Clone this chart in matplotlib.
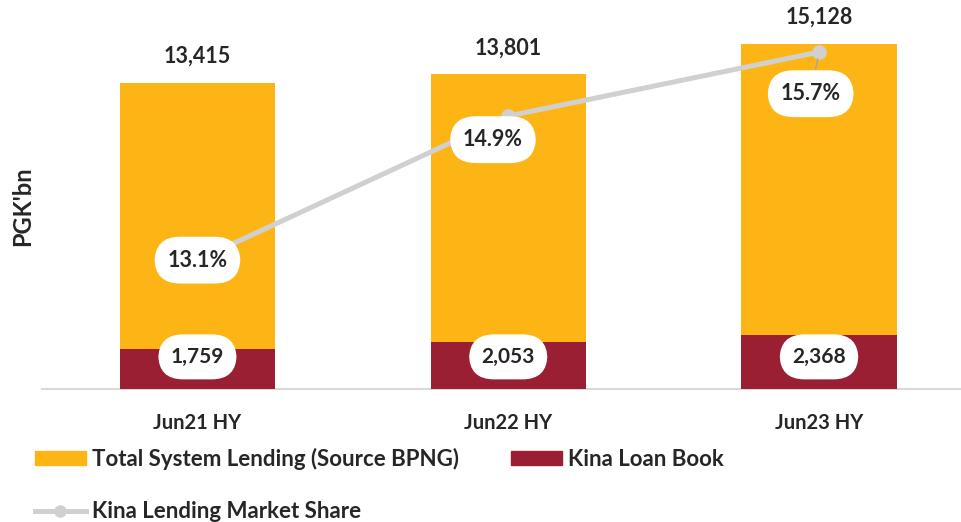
import matplotlib
matplotlib.use("Agg")
import matplotlib.pyplot as plt
import matplotlib.transforms as mtransforms
from matplotlib.patches import Patch
from matplotlib.lines import Line2D

plt.rcParams['font.family'] = ['Lato', 'DejaVu Sans']
plt.rcParams['font.weight'] = 'bold'

periods = ['Jun21 HY', 'Jun22 HY', 'Jun23 HY']
system_lending = [13415, 13801, 15128]
kina_loans = [1759, 2053, 2368]
market_share = [13.1, 14.9, 15.7]

ORANGE = '#FDB515'
MAROON = '#9A1F33'
GREY = '#D0D0D0'
TXT = '#262626'

fig = plt.figure(figsize=(9.62, 5.22), dpi=100)
ax = fig.add_axes([0.0437, 0.2548, 0.9563, 0.6992])
x = list(range(len(periods)))

ax.bar(x, system_lending, width=0.5, color=ORANGE, zorder=2)
ax.bar(x, kina_loans, width=0.5, color=MAROON, zorder=3)
ax.set_xlim(-0.5, 2.46)
ax.set_ylim(0, 16000)

for s in ['top', 'right', 'left']:
    ax.spines[s].set_visible(False)
ax.spines['bottom'].set_color('#D9D9D9')
ax.spines['bottom'].set_linewidth(1.5)
ax.set_yticks([])
ax.set_xticks(x)
ax.set_xticklabels(periods, fontsize=14.5, color=TXT, fontweight='bold')
ax.tick_params(axis='x', length=0, pad=17)
ax.set_ylabel("PGK'bn", fontsize=17, color=TXT, fontweight='bold', labelpad=6)

box = dict(boxstyle='round,pad=0.6,rounding_size=1.2', fc='white', ec='none')

for xi, v in zip(x, system_lending):
    ax.annotate(f'{v:,}', (xi, v), xytext=(0, 19), textcoords='offset points',
                ha='center', va='center', fontsize=15.5, color=TXT, fontweight='bold')

# kina loan labels sit at a common height
trans = mtransforms.blended_transform_factory(ax.transData, ax.transAxes)
for xi, v in zip(x, kina_loans):
    ax.text(xi, 0.088, f'{v:,}', transform=trans, ha='center', va='center',
            fontsize=15, color=TXT, fontweight='bold', bbox=box, zorder=6)

ax2 = ax.twinx()
ax2.set_ylim(11.49, 16.05)
ax2.axis('off')
ax2.plot(x, market_share, color=GREY, lw=3.6, marker='o', markersize=9.5,
         solid_capstyle='round', zorder=4)

offsets = [(0, 0), (-11, -17), (-6, -30)]
for xi, v, off in zip(x, market_share, offsets):
    arrow = dict(arrowstyle='-', color='#A6A6A6', lw=1, shrinkA=0, shrinkB=5) if off[1] < -20 else None
    ax2.annotate(f'{v:.1f}%', (xi, v), xytext=off, textcoords='offset points',
                 ha='center', va='center', fontsize=15.5, color=TXT, fontweight='bold',
                 bbox=box, arrowprops=arrow, zorder=6)

handles = [Patch(color=ORANGE),
           Line2D([], [], color=GREY, lw=3.6, marker='o', markersize=8),
           Patch(color=MAROON)]
labels = ['Total System Lending (Source BPNG)', 'Kina Lending Market Share', 'Kina Loan Book']
fig.legend(handles, labels, ncol=2, loc='upper left', bbox_to_anchor=(0.036, 0.142),
           frameon=False, fontsize=16, handlelength=2.3, handleheight=0.55,
           handletextpad=0.27, labelspacing=1.42, columnspacing=2.35,
           labelcolor=TXT, borderaxespad=0, borderpad=0)

fig.savefig('out.png', dpi=100)
